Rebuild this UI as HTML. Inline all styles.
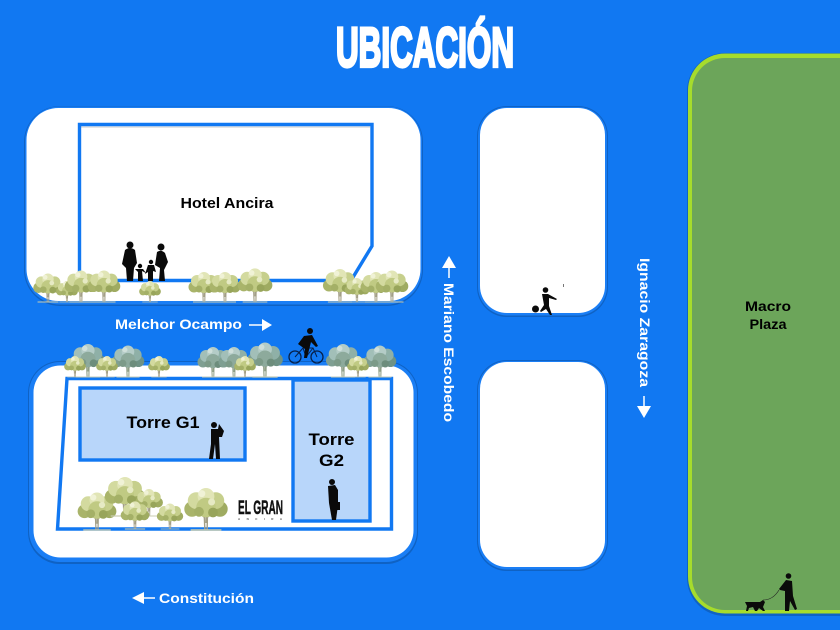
<!DOCTYPE html>
<html><head><meta charset="utf-8"><style>
html,body{margin:0;padding:0;background:#1178f2;width:840px;height:630px;overflow:hidden}
svg{display:block}
text{font-family:"Liberation Sans",sans-serif;font-weight:700}
</style></head><body>
<svg width="840" height="630" viewBox="0 0 840 630" xmlns="http://www.w3.org/2000/svg">
<defs>
<g id="ty">
<path d="M-.8 0L-1.200-9-6-14M.8 0L1-9 6-14M0-5V-14" stroke="#a39f86" stroke-width="1" fill="none"/>
<path d="M-11 0H11" stroke="#c9ccb0" stroke-width="1"/>
<circle cx="-10" cy="-15" r="5.500" fill="#a9b46a"/><circle cx="10" cy="-15" r="5.500" fill="#9fab61"/>
<circle cx="-7" cy="-21" r="6" fill="#d3da9f"/><circle cx="7" cy="-21" r="6" fill="#c6cf8c"/>
<circle cx="0" cy="-24" r="6" fill="#e1e5b6"/><circle cx="0" cy="-16" r="7" fill="#c0ca83"/>
<circle cx="-5" cy="-13" r="3.500" fill="#a4b067"/><circle cx="5" cy="-12.500" r="3.500" fill="#98a55b"/>
<circle cx="-3" cy="-26" r="2.500" fill="#f0f2d6"/><circle cx="4" cy="-20" r="2.500" fill="#e6eac4"/>
</g>
<g id="tb">
<path d="M-.8 0L-1.200-9-6-14M.8 0L1-9 6-14M0-5V-14" stroke="#8f9f86" stroke-width="1" fill="none"/>
<path d="M-11 0H11" stroke="#c5cdb8" stroke-width="1"/>
<circle cx="-10" cy="-15" r="5.500" fill="#7f9f92"/><circle cx="10" cy="-15" r="5.500" fill="#6f9285"/>
<circle cx="-7" cy="-21" r="6" fill="#a2bfb8"/><circle cx="7" cy="-21" r="6" fill="#8fb0a7"/>
<circle cx="0" cy="-24" r="6" fill="#b4ccc7"/><circle cx="0" cy="-16" r="7" fill="#8daa9c"/>
<circle cx="-5" cy="-13" r="3.500" fill="#7c9a88"/><circle cx="5" cy="-12.500" r="3.500" fill="#6d8d7c"/>
<circle cx="-3" cy="-26" r="2.500" fill="#cfdfda"/>
</g>
</defs>
<rect width="840" height="630" fill="#1178f2"/>

<!-- title -->
<text x="336" y="66.500" font-size="56" textLength="178" lengthAdjust="spacingAndGlyphs" fill="#fff" stroke="#fff" stroke-width="3.200">UBICACIÓN</text>

<!-- block 1 -->
<rect x="24" y="106" width="399" height="200" rx="36" fill="#0f62c4"/>
<rect x="25" y="106.500" width="397" height="198" rx="35" fill="#1a7ef5"/>
<rect x="26.500" y="108" width="394" height="193" rx="32" fill="#fff"/>
<path d="M81 127H370" fill="none" stroke="#d9d9d9" stroke-width="2" opacity=".7"/>
<path d="M79.500 124.500H372V246L351 280.500H79.500Z" fill="none" stroke="#1178f2" stroke-width="3.400"/>
<text x="227" y="208" font-size="14.500" text-anchor="middle" fill="#000" textLength="93" lengthAdjust="spacingAndGlyphs">Hotel Ancira</text>

<!-- family -->
<g fill="#0a0a0a">
<circle cx="130" cy="245" r="3.500"/><path d="M125 250Q130 246 135 250L137 263 134 268 133 281H127L126 268 122 264Z"/>
<circle cx="161" cy="247" r="3.500"/><path d="M157 252Q161 249 165 253L168 262 164 270 165 281H159L160 268 155 265Z"/>
<circle cx="140" cy="266" r="2.200"/><path d="M137 269H143L146 273 142 271 143 281H138L138 272 135 269Z"/>
<circle cx="151" cy="262" r="2.200"/><path d="M148 265H154L156 272 153 271 153 281H148L148 272 145 274Z"/>
</g>

<!-- trees block 1 -->
<use href="#ty" transform="translate(48,302) scale(.95)"/>
<use href="#ty" transform="translate(67,302) scale(.7)"/>
<use href="#ty" transform="translate(81,302) scale(1.050)"/>
<use href="#ty" transform="translate(104,302) scale(1.050)"/>
<use href="#ty" transform="translate(150,302) scale(.7)"/>
<use href="#ty" transform="translate(204,302) scale(1)"/>
<use href="#ty" transform="translate(225,302) scale(1)"/>
<use href="#ty" transform="translate(255,302) scale(1.120)"/>
<use href="#ty" transform="translate(340,302) scale(1.100)"/>
<use href="#ty" transform="translate(357,302) scale(.8)"/>
<use href="#ty" transform="translate(376,302) scale(1)"/>
<use href="#ty" transform="translate(392,302) scale(1.050)"/>

<!-- block 2 -->
<rect x="28" y="361" width="390" height="203" rx="32" fill="#0f62c4"/>
<rect x="29" y="362" width="388" height="200" rx="31" fill="#1a7ef5"/>
<rect x="33.500" y="365.500" width="380" height="192" rx="27" fill="#fff"/>
<path d="M67 378.500H391.500V529H57.500Z" fill="none" stroke="#1178f2" stroke-width="3.400"/>
<rect x="80" y="388" width="165" height="72" fill="#b8d6fa" stroke="#1178f2" stroke-width="3.400"/>
<rect x="293" y="380" width="77" height="141" fill="#b8d6fa" stroke="#1178f2" stroke-width="3.400"/>
<text x="163" y="428" font-size="17" text-anchor="middle" fill="#000" textLength="73" lengthAdjust="spacingAndGlyphs">Torre G1</text>
<text x="331.500" y="445" font-size="17" text-anchor="middle" fill="#000" textLength="46" lengthAdjust="spacingAndGlyphs">Torre</text>
<text x="331.500" y="466" font-size="17" text-anchor="middle" fill="#000" textLength="25" lengthAdjust="spacingAndGlyphs">G2</text>

<!-- musician -->
<g fill="#0a0a0a"><circle cx="214" cy="425" r="3"/><path d="M211 429H218L219 424 224 431 222 437 219 437 220 459H216L215 444 213 459H209L211 444Z"/></g>
<!-- businessman -->
<g fill="#0a0a0a"><circle cx="332" cy="482" r="3"/><path d="M328 486 335 485 338 490 338 505 336 520H332L329 503Z"/><rect x="335" y="502" width="5" height="8"/></g>

<!-- lower trees -->
<use href="#ty" transform="translate(97,530) scale(1.250)"/>
<use href="#ty" transform="translate(125,516) scale(1.300)"/>
<use href="#ty" transform="translate(149,516) scale(.9)"/>
<use href="#ty" transform="translate(135,529) scale(.92)"/>
<use href="#ty" transform="translate(170,529) scale(.85)"/>
<use href="#ty" transform="translate(206,530) scale(1.400)"/>

<text x="238" y="514" font-size="19" textLength="45" lengthAdjust="spacingAndGlyphs" fill="#111" stroke="#111" stroke-width=".5">EL GRAN</text>
<text x="238" y="520" font-size="3" textLength="44" lengthAdjust="spacing" fill="#555">ANCIRA</text>

<!-- trees row 2 -->
<use href="#tb" transform="translate(88,377) scale(1.100)"/>
<use href="#tb" transform="translate(128,377) scale(1.050)"/>
<use href="#ty" transform="translate(75,377) scale(.7)"/>
<use href="#ty" transform="translate(107,377) scale(.7)"/>
<use href="#ty" transform="translate(159,377) scale(.7)"/>
<use href="#tb" transform="translate(213,377) scale(1)"/>
<use href="#tb" transform="translate(234,377) scale(1)"/>
<use href="#tb" transform="translate(265,377) scale(1.150)"/>
<use href="#ty" transform="translate(245,377) scale(.7)"/>
<use href="#tb" transform="translate(343,377) scale(1.100)"/>
<use href="#tb" transform="translate(380,377) scale(1.050)"/>
<use href="#ty" transform="translate(358,377) scale(.7)"/>

<!-- cyclist -->
<g><circle cx="295" cy="357" r="6" fill="none" stroke="#06204a" stroke-width="1.300"/><circle cx="317" cy="357" r="6" fill="none" stroke="#06204a" stroke-width="1.300"/>
<path d="M295 357L303 348 313 348 317 357M303 348 306 357 313 348" fill="none" stroke="#06204a" stroke-width="1"/>
<circle cx="310" cy="331" r="3" fill="#0a0a0a"/><path d="M304 336 312 335 318 346 316 347 311 342 309 350 307 358H304L305 349 298 344Z" fill="#0a0a0a"/></g>

<!-- streets -->
<text x="115" y="329" font-size="13.500" fill="#fff" textLength="127" lengthAdjust="spacingAndGlyphs">Melchor Ocampo</text>
<path d="M249 325H264" stroke="#fff" stroke-width="1.500"/><path d="M262 319L272 325 262 331Z" fill="#fff"/>
<text x="159" y="603" font-size="13.500" fill="#fff" textLength="95" lengthAdjust="spacingAndGlyphs">Constitución</text>
<path d="M142 598H155" stroke="#fff" stroke-width="1.500"/><path d="M144 592L132 598 144 604Z" fill="#fff"/>

<text transform="translate(444,283) rotate(90)" font-size="13.500" fill="#fff" textLength="139" lengthAdjust="spacingAndGlyphs">Mariano Escobedo</text>
<path d="M449 266V278" stroke="#fff" stroke-width="1.500"/><path d="M442 268L449 256 456 268Z" fill="#fff"/>
<text transform="translate(640,258) rotate(90)" font-size="13.500" fill="#fff" textLength="129" lengthAdjust="spacingAndGlyphs">Ignacio Zaragoza</text>
<path d="M644 396V408" stroke="#fff" stroke-width="1.500"/><path d="M637 406L644 418 651 406Z" fill="#fff"/>

<!-- right blocks -->
<rect x="477" y="106" width="131" height="211" rx="30" fill="#0f62c4"/>
<rect x="478" y="107" width="129" height="208.500" rx="29" fill="#1a7ef5"/>
<rect x="480" y="108" width="125" height="205" rx="27" fill="#fff"/>
<rect x="477" y="360" width="131" height="211" rx="30" fill="#0f62c4"/>
<rect x="478" y="361" width="129" height="208.500" rx="29" fill="#1a7ef5"/>
<rect x="480" y="362" width="125" height="205" rx="27" fill="#fff"/>
<!-- kid -->
<g fill="#0a0a0a"><circle cx="535.500" cy="309" r="3.500"/><circle cx="545.500" cy="290" r="2.800"/><path d="M542 294 548 294 557 299 556 300 549 298 549 306 552 315H550L546 309 541 312 540 311 544 305Z"/><rect x="563" y="284" width="1" height="3" fill="#777"/></g>

<!-- macro plaza -->
<rect x="687" y="53" width="190" height="563" rx="38" fill="#0f62c4"/>
<rect x="688" y="53.500" width="190" height="560" rx="37" fill="#a6dc2c"/>
<rect x="692" y="58" width="184" height="552" rx="33" fill="#6ca55a"/>
<text x="768" y="311" font-size="13.500" text-anchor="middle" fill="#000" textLength="46" lengthAdjust="spacingAndGlyphs">Macro</text>
<text x="768" y="329" font-size="13.500" text-anchor="middle" fill="#000" textLength="37" lengthAdjust="spacingAndGlyphs">Plaza</text>
<g fill="#0a0a0a"><circle cx="788.500" cy="576" r="2.800"/><path d="M786 580 792 581 793 596 797 609 795 610 790 601 789 611H785L785 591 780 590 779 589Z"/>
<path d="M745 602H760L763 600 765 602 763 607 765 611H763L759 608 757 611H755L753 607 749 608 748 611H746L747 606Z"/>
<path d="M763 600Q773 600 779 590" fill="none" stroke="#222" stroke-width=".6"/></g>
</svg>
</body></html>
